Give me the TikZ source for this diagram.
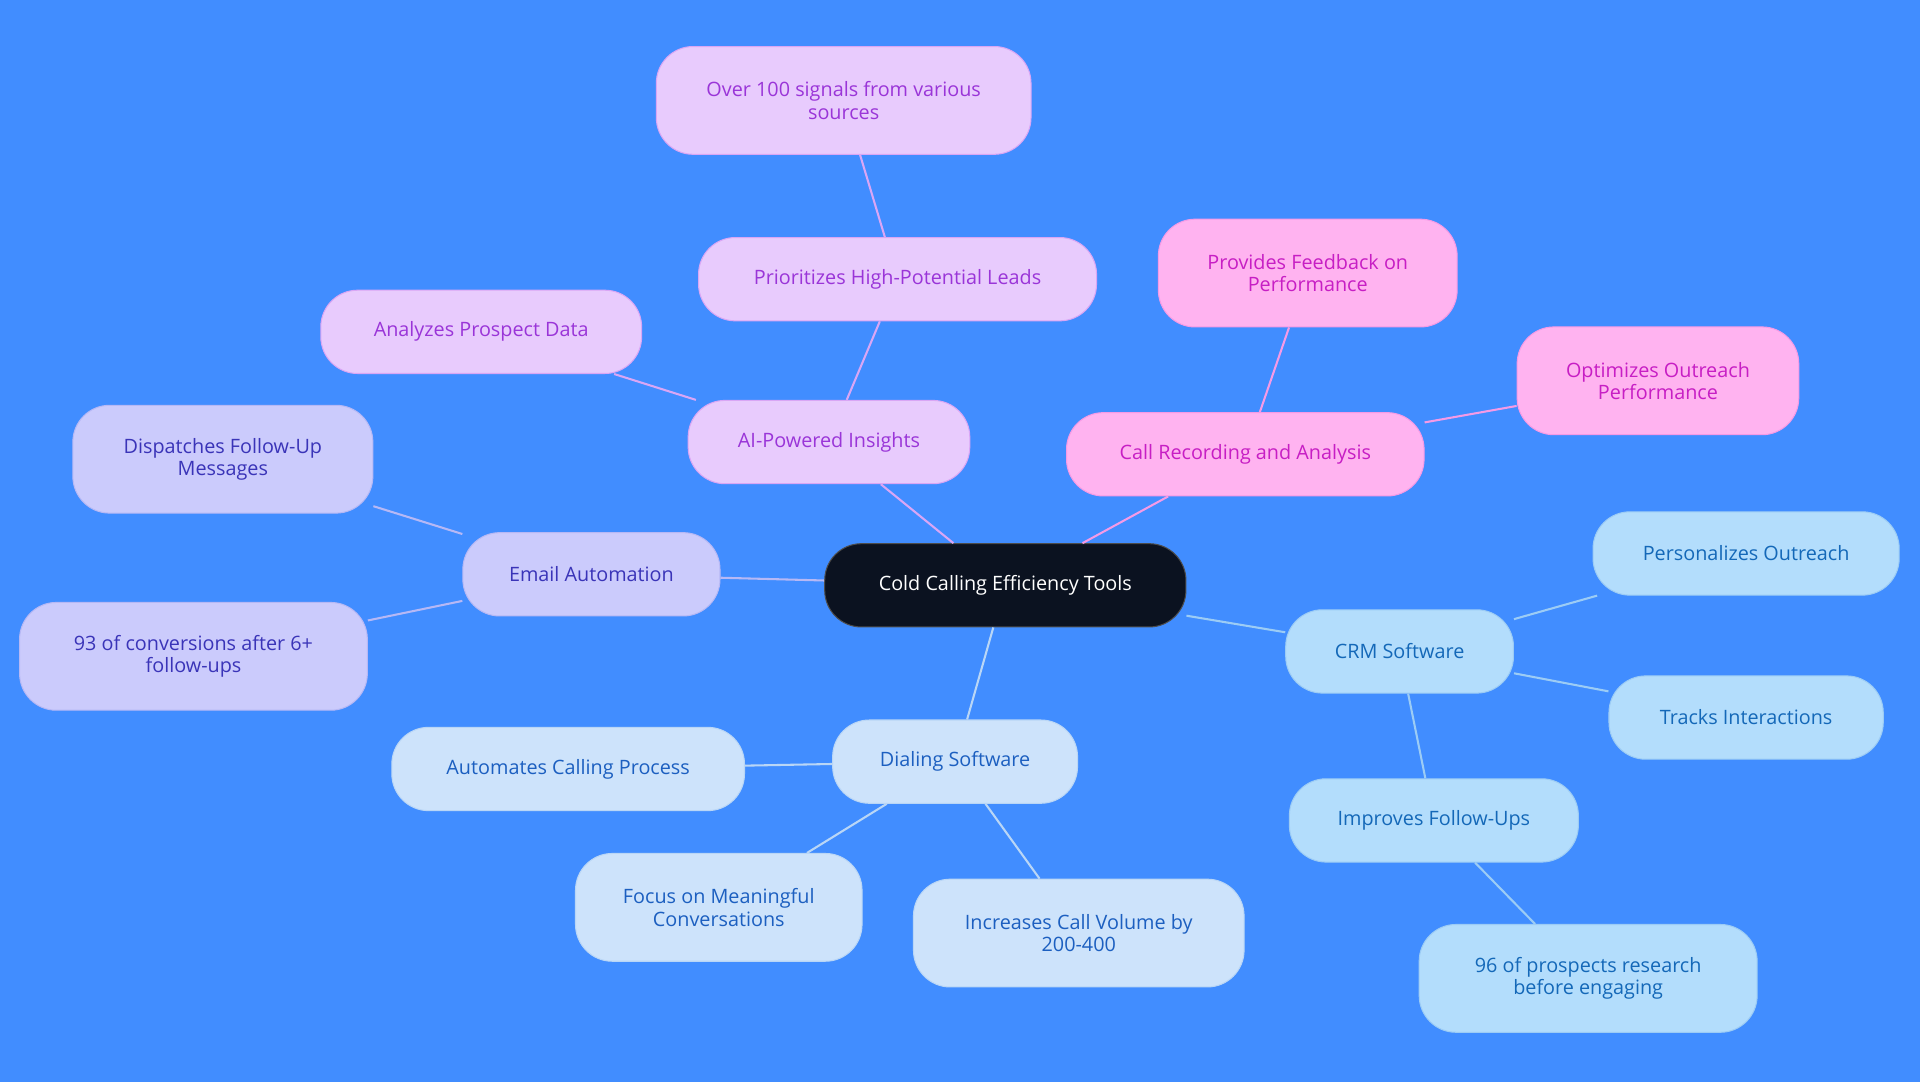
\documentclass[tikz,border=0pt]{standalone}
\usepackage{fontspec}
\setmainfont{Open Sans}
\definecolor{bg}{HTML}{418DFF}
\definecolor{rootfill}{HTML}{0B1220}
\definecolor{aifill}{HTML}{E8CBFD}\definecolor{aitext}{HTML}{9A35D8}\definecolor{ailine}{HTML}{D9A6F5}
\definecolor{crfill}{HTML}{FFB3F0}\definecolor{crtext}{HTML}{C71EC4}\definecolor{crline}{HTML}{F59AE6}
\definecolor{emfill}{HTML}{CBCBFC}\definecolor{emtext}{HTML}{3A34B8}\definecolor{emline}{HTML}{B6B8F5}
\definecolor{dsfill}{HTML}{CDE3FB}\definecolor{dstext}{HTML}{1C5FC0}\definecolor{dsline}{HTML}{B9D6F6}
\definecolor{crmfill}{HTML}{B3DDFC}\definecolor{crmtext}{HTML}{1468B8}\definecolor{crmline}{HTML}{9CCCF5}
\tikzset{
  box/.style={rounded corners=0.75cm, minimum height=1.7cm, align=center, font=\fontsize{11.5}{13}\selectfont, line width=0.6pt},
  tall/.style={minimum height=2.2cm},
  ai/.style={box, fill=aifill, draw=ailine, text=aitext},
  cr/.style={box, fill=crfill, draw=crline, text=crtext},
  em/.style={box, fill=emfill, draw=emline, text=emtext},
  ds/.style={box, fill=dsfill, draw=dsline, text=dstext},
  crm/.style={box, fill=crmfill, draw=crmline, text=crmtext},
}
\begin{document}
\begin{tikzpicture}[x=0.025cm,y=-0.025cm]
\fill[bg] (0,0) rectangle (1568,884);
\useasboundingbox (0,0) rectangle (1568,884);

\node[box, fill=rootfill, draw=gray!60!black, text=white, minimum width=295*0.025cm] (root) at (821,478) {Cold Calling Efficiency Tools};

\node[ai, minimum width=230*0.025cm] (ai) at (677,361) {AI-Powered Insights};
\node[ai, minimum width=325*0.025cm] (prio) at (733,228) {Prioritizes High-Potential Leads};
\node[ai, tall, minimum width=306*0.025cm] (signals) at (689,82) {Over 100 signals from various\\sources};
\node[ai, minimum width=262*0.025cm] (analyze) at (393,271) {Analyzes Prospect Data};

\node[cr, minimum width=292*0.025cm] (rec) at (1017,371) {Call Recording and Analysis};
\node[cr, tall, minimum width=244*0.025cm] (feedback) at (1068,223) {Provides Feedback on\\Performance};
\node[cr, tall, minimum width=230*0.025cm] (optim) at (1354,311) {Optimizes Outreach\\Performance};

\node[em, minimum width=210*0.025cm] (email) at (483,469) {Email Automation};
\node[em, tall, minimum width=245*0.025cm] (dispatch) at (182,375) {Dispatches Follow-Up\\Messages};
\node[em, tall, minimum width=284*0.025cm] (conv) at (158,536) {93 of conversions after 6+\\follow-ups};

\node[ds, minimum width=200*0.025cm] (dial) at (780,622) {Dialing Software};
\node[ds, minimum width=288*0.025cm] (autom) at (464,628) {Automates Calling Process};
\node[ds, tall, minimum width=234*0.025cm] (focus) at (587,741) {Focus on Meaningful\\Conversations};
\node[ds, tall, minimum width=270*0.025cm] (volume) at (881,762) {Increases Call Volume by\\200-400};

\node[crm, minimum width=186*0.025cm] (crm) at (1143,532) {CRM Software};
\node[crm, minimum width=250*0.025cm] (person) at (1426,452) {Personalizes Outreach};
\node[crm, minimum width=224*0.025cm] (track) at (1426,586) {Tracks Interactions};
\node[crm, minimum width=236*0.025cm] (improve) at (1171,670) {Improves Follow-Ups};
\node[crm, tall, minimum width=276*0.025cm] (research) at (1297,799) {96 of prospects research\\before engaging};

\begin{scope}[on background layer/.style={}, line width=1.2pt]
\draw[ailine] (root) -- (ai);
\draw[ailine] (ai) -- (prio);
\draw[ailine] (prio) -- (signals);
\draw[ailine] (ai) -- (analyze);
\draw[crline] (root) -- (rec);
\draw[crline] (rec) -- (feedback);
\draw[crline] (rec) -- (optim);
\draw[emline] (root) -- (email);
\draw[emline] (email) -- (dispatch);
\draw[emline] (email) -- (conv);
\draw[dsline] (root) -- (dial);
\draw[dsline] (dial) -- (autom);
\draw[dsline] (dial) -- (focus);
\draw[dsline] (dial) -- (volume);
\draw[crmline] (root) -- (crm);
\draw[crmline] (crm) -- (person);
\draw[crmline] (crm) -- (track);
\draw[crmline] (crm) -- (improve);
\draw[crmline] (improve) -- (research);
\end{scope}
\end{tikzpicture}
\end{document}
